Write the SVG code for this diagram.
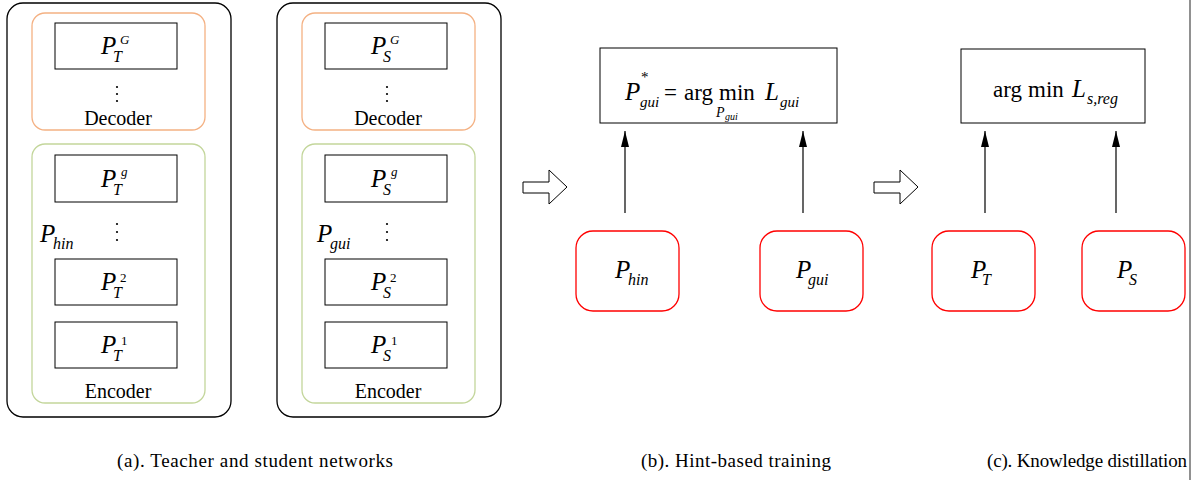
<svg xmlns="http://www.w3.org/2000/svg" width="1197" height="480" viewBox="0 0 1197 480">
<style>
text{font-family:"Liberation Serif","Times New Roman",serif;fill:#000}
.m{font-style:italic;font-size:25px}
.s{font-style:italic;font-size:16px}
.u{font-style:italic;font-size:13px}
.un{font-style:normal;font-size:13px}
.t{font-size:20px}
.f{font-size:23px}
.cap{font-size:19px}
.outer{fill:none;stroke:#000;stroke-width:1.3}
.dec{fill:none;stroke:#F4B183;stroke-width:1.3}
.enc{fill:none;stroke:#C3D69B;stroke-width:1.3}
.box{fill:#fff;stroke:#000;stroke-width:1}
.red{fill:#fff;stroke:#FF0000;stroke-width:1.3}
.ln{stroke:#000;stroke-width:1.2;fill:none}
.hollow{fill:#fff;stroke:#000;stroke-width:1}
</style>
<defs>
<marker id="ah" viewBox="0 0 16 8" refX="16" refY="4" markerWidth="16" markerHeight="8" markerUnits="userSpaceOnUse" orient="auto">
<path d="M0,0 L16,4 L0,8 Z" fill="#000"/>
</marker>
</defs>

<!-- (a) Teacher -->
<g id="teacher">
<rect class="outer" x="7" y="3" width="224" height="414" rx="16"/>
<g id="teacher-decoder">
<rect class="dec" x="32" y="13" width="173" height="117" rx="13"/>
<circle cx="117" cy="87" r="1.1"/><circle cx="117" cy="94" r="1.1"/><circle cx="117" cy="101" r="1.1"/>
<text class="t" x="118" y="125" text-anchor="middle">Decoder</text>
</g>
<g id="teacher-encoder">
<rect class="enc" x="32" y="144" width="173" height="259" rx="13"/>
<circle cx="117" cy="224" r="1.1"/><circle cx="117" cy="232" r="1.1"/><circle cx="117" cy="240" r="1.1"/>
<text class="t" x="118" y="398" text-anchor="middle">Encoder</text>
<text class="m" x="40" y="242">P<tspan class="s" x="53" y="249">hin</tspan></text>
</g>
<g id="PTG"><rect class="box" x="55" y="23" width="122" height="46"/>
<text class="m" x="101" y="54">P<tspan class="s" x="113" y="62">T</tspan><tspan class="u" x="120" y="44">G</tspan></text></g>
<g id="PTg"><rect class="box" x="55" y="155" width="122" height="47"/>
<text class="m" x="101" y="187">P<tspan class="s" x="113" y="195">T</tspan><tspan class="u" x="121" y="176">g</tspan></text></g>
<g id="PT2"><rect class="box" x="55" y="259" width="122" height="46"/>
<text class="m" x="101" y="290">P<tspan class="s" x="113" y="298">T</tspan><tspan class="un" x="120" y="282">2</tspan></text></g>
<g id="PT1"><rect class="box" x="55" y="322" width="122" height="46"/>
<text class="m" x="101" y="353">P<tspan class="s" x="113" y="361">T</tspan><tspan class="un" x="121" y="345">1</tspan></text></g>
</g>

<!-- (a) Student -->
<g id="student">
<rect class="outer" x="277" y="3" width="224" height="414" rx="16"/>
<g id="student-decoder">
<rect class="dec" x="302" y="13" width="173" height="117" rx="13"/>
<circle cx="387" cy="87" r="1.1"/><circle cx="387" cy="94" r="1.1"/><circle cx="387" cy="101" r="1.1"/>
<text class="t" x="388" y="125" text-anchor="middle">Decoder</text>
</g>
<g id="student-encoder">
<rect class="enc" x="302" y="144" width="173" height="259" rx="13"/>
<circle cx="387" cy="224" r="1.1"/><circle cx="387" cy="232" r="1.1"/><circle cx="387" cy="240" r="1.1"/>
<text class="t" x="388" y="398" text-anchor="middle">Encoder</text>
<text class="m" x="317" y="242">P<tspan class="s" x="330" y="249">gui</tspan></text>
</g>
<g id="PSG"><rect class="box" x="325" y="23" width="122" height="46"/>
<text class="m" x="371" y="54">P<tspan class="s" x="383" y="62">S</tspan><tspan class="u" x="390" y="44">G</tspan></text></g>
<g id="PSg"><rect class="box" x="325" y="155" width="122" height="47"/>
<text class="m" x="371" y="187">P<tspan class="s" x="383" y="195">S</tspan><tspan class="u" x="391" y="176">g</tspan></text></g>
<g id="PS2"><rect class="box" x="325" y="259" width="122" height="46"/>
<text class="m" x="371" y="290">P<tspan class="s" x="383" y="298">S</tspan><tspan class="un" x="390" y="282">2</tspan></text></g>
<g id="PS1"><rect class="box" x="325" y="322" width="122" height="46"/>
<text class="m" x="371" y="353">P<tspan class="s" x="383" y="361">S</tspan><tspan class="un" x="391" y="345">1</tspan></text></g>
</g>

<!-- (b) Hint-based training -->
<g id="gui-formula">
<rect class="box" x="600" y="48" width="237" height="75"/>
<text class="m" x="625" y="100">P<tspan style="font-style:normal;font-size:15px" x="641" y="82">*</tspan><tspan style="font-size:15px" x="640" y="107">gui</tspan><tspan style="font-style:normal;font-size:23px" x="664" y="100">=</tspan><tspan style="font-style:normal;font-size:23px" x="684" y="100">arg</tspan><tspan style="font-style:normal;font-size:23px" x="719" y="100">min</tspan><tspan x="765" y="100">L</tspan><tspan style="font-size:15px" x="780" y="107">gui</tspan></text>
<text style="font-style:italic;font-size:14px" x="716" y="117">P<tspan style="font-size:10px" x="725" y="120">gui</tspan></text>
</g>
<g id="Phin-node"><rect class="red" x="576" y="231" width="103" height="80" rx="17"/>
<text class="m" x="615" y="278">P<tspan class="s" x="628" y="285">hin</tspan></text></g>
<g id="Pgui-node"><rect class="red" x="760" y="231" width="103" height="80" rx="17"/>
<text class="m" x="796" y="278">P<tspan class="s" x="808" y="285">gui</tspan></text></g>

<!-- (c) Knowledge distillation -->
<g id="reg-formula">
<rect class="box" x="961" y="49" width="184" height="74"/>
<text class="f" x="993" y="97">arg<tspan x="1028">min</tspan><tspan class="m" x="1072">L</tspan><tspan class="s" x="1087" y="104">s,reg</tspan></text>
</g>
<g id="PT-node"><rect class="red" x="932" y="231" width="103" height="80" rx="17"/>
<text class="m" x="971" y="278">P<tspan class="s" x="982" y="285">T</tspan></text></g>
<g id="PS-node"><rect class="red" x="1082" y="231" width="103" height="80" rx="17"/>
<text class="m" x="1117" y="278">P<tspan class="s" x="1129" y="285">S</tspan></text></g>

<!-- connectors -->
<g id="connectors">
<line class="ln" x1="625" y1="213" x2="625" y2="131" marker-end="url(#ah)"/>
<line class="ln" x1="803" y1="213" x2="803" y2="131" marker-end="url(#ah)"/>
<line class="ln" x1="985" y1="213" x2="985" y2="131" marker-end="url(#ah)"/>
<line class="ln" x1="1116" y1="213" x2="1116" y2="131" marker-end="url(#ah)"/>
<polygon class="hollow" points="523,182 549,182 549,170 567,187 549,204 549,193 523,193"/>
<polygon class="hollow" points="874,182 900,182 900,170 918,187 900,204 900,193 874,193"/>
</g>

<line x1="1190" y1="0" x2="1190" y2="480" stroke="#555" stroke-width="1.3"/>

<text class="cap" x="117" y="467" textLength="276">(a). Teacher and student networks</text>
<text class="cap" x="641" y="467" textLength="190">(b). Hint-based training</text>
<text class="cap" x="987" y="467" textLength="200">(c). Knowledge distillation</text>
</svg>
